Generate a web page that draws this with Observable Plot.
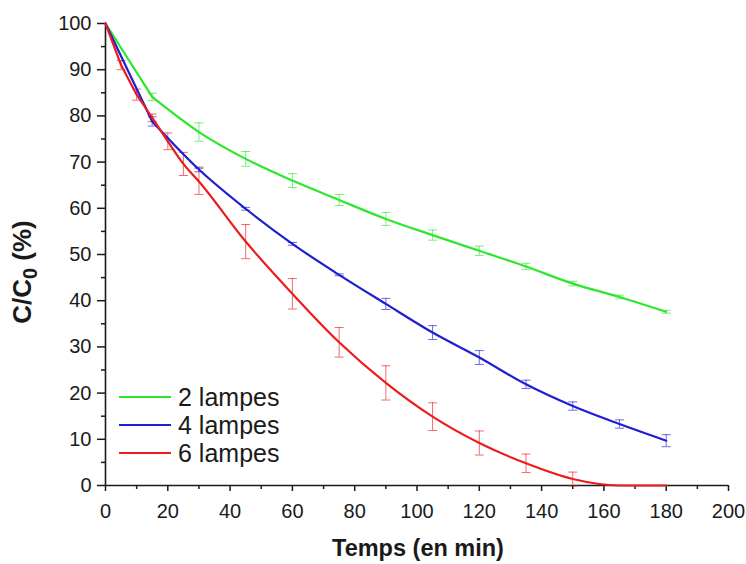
<!DOCTYPE html>
<html>
<head>
<meta charset="utf-8">
<script src="https://cdn.jsdelivr.net/npm/d3@7"></script>
<script src="https://cdn.jsdelivr.net/npm/@observablehq/plot@0.6"></script>
<style>
  html, body { margin: 0; padding: 0; background: #fff; }
  #chart { width: 746px; height: 564px; }
</style>
</head>
<body>
<div id="chart"></div>
<script>
// ---- Data ----
const seriesNames = ["2 lampes", "4 lampes", "6 lampes"];
const seriesColors = ["#2ee62e", "#1e1ed2", "#ec1c1c"];

const time2 = [0, 15, 30, 45, 60, 75, 90, 105, 120, 135, 150, 165, 180];
const lamp2 = [100, 84.1, 76.5, 70.7, 66.0, 61.8, 57.7, 54.2, 50.8, 47.4, 43.7, 40.8, 37.6];
const lamp2Err = [0, 0.8, 2.0, 1.6, 1.5, 1.2, 1.4, 1.1, 1.0, 0.7, 0.5, 0.4, 0.3];

const time4 = [0, 15, 30, 45, 60, 75, 90, 105, 120, 135, 150, 165, 180];
const lamp4 = [100, 78.8, 68.4, 59.9, 52.3, 45.6, 39.3, 33.1, 27.7, 21.9, 17.2, 13.3, 9.7];
const lamp4Err = [0, 1.0, 0.5, 0.3, 0.3, 0.2, 1.2, 1.5, 1.5, 0.9, 0.9, 0.9, 1.3];

const time6 = [0, 5, 10, 15, 20, 25, 30, 45, 60, 75, 90, 105, 120, 135, 150, 165, 180];
const lamp6 = [100, 91.0, 84.6, 79.6, 74.5, 69.6, 65.8, 52.8, 41.5, 31.0, 22.2, 14.9, 9.2, 4.8, 1.4, 0, 0];
const lamp6Err = [0, 1.0, 1.2, 0.8, 1.8, 2.5, 2.8, 3.7, 3.3, 3.2, 3.7, 3.0, 2.6, 2.0, 1.5, 0, 0];

const xTicks = [0, 20, 40, 60, 80, 100, 120, 140, 160, 180, 200];
const xMinorTicks = [10, 30, 50, 70, 90, 110, 130, 150, 170, 190];
const yTicks = [0, 10, 20, 30, 40, 50, 60, 70, 80, 90, 100];
const yMinorTicks = [5, 15, 25, 35, 45, 55, 65, 75, 85, 95];

// ---- Build table ----
const rows = [];
[[time2, lamp2, lamp2Err], [time4, lamp4, lamp4Err], [time6, lamp6, lamp6Err]].forEach(([t, v, e], i) => {
  t.forEach((tt, j) => rows.push({series: seriesNames[i], t: tt, v: v[j], e: e[j]}));
});
const errRows = rows.filter(d => d.e > 0);
const firstRows = rows.filter(d => d.t <= 15);
const restRows = rows.filter(d => d.t >= 15);

const capSymbol = {
  draw(context, size) {
    const r = Math.sqrt(size / Math.PI);
    context.moveTo(-r, 0);
    context.lineTo(r, 0);
  }
};

const axisColor = "#1a1a1a";

const chart = Plot.plot({
  width: 746,
  height: 564,
  marginLeft: 105,
  marginRight: 18,
  marginTop: 23,
  marginBottom: 79,
  style: {fontFamily: "'Liberation Sans', Arial, sans-serif", fontSize: "20px", color: axisColor, background: "#fff"},
  x: {domain: [0, 200]},
  y: {domain: [0, 100]},
  color: {domain: seriesNames, range: seriesColors},
  marks: [
    Plot.axisY({ticks: yTicks, tickSize: 8, tickPadding: 6, label: null, fontSize: 20, strokeWidth: 1.5}),
    Plot.axisY({ticks: yMinorTicks, tickSize: 4, text: null, label: null, strokeWidth: 1.5}),
    Plot.axisX({ticks: xTicks, tickSize: 6, tickPadding: 12, label: null, fontSize: 20, strokeWidth: 1.5}),
    Plot.axisX({ticks: xMinorTicks, tickSize: 4, text: null, label: null, strokeWidth: 1.5}),
    Plot.ruleX([0], {stroke: axisColor, strokeWidth: 1.6}),
    Plot.ruleY([0], {stroke: axisColor, strokeWidth: 1.6}),
    Plot.ruleX(errRows, {x: "t", y1: d => d.v - d.e, y2: d => d.v + d.e, stroke: "series", strokeWidth: 1, strokeOpacity: 0.65}),
    Plot.dot(errRows, {x: "t", y: d => d.v + d.e, symbol: capSymbol, r: 4.5, fill: "none", stroke: "series", strokeWidth: 1, strokeOpacity: 0.65}),
    Plot.dot(errRows, {x: "t", y: d => d.v - d.e, symbol: capSymbol, r: 4.5, fill: "none", stroke: "series", strokeWidth: 1, strokeOpacity: 0.65}),
    Plot.line(firstRows, {x: "t", y: "v", z: "series", stroke: "series", strokeWidth: 2.2, curve: "linear"}),
    Plot.line(restRows, {x: "t", y: "v", z: "series", stroke: "series", strokeWidth: 2.2, curve: "monotone-x"})
  ]
});

document.getElementById("chart").appendChild(chart);

// ---- Titles and legend ----
const svg = d3.select(chart);
const ff = "'Liberation Sans', Arial, sans-serif";

svg.append("text")
  .attr("x", 418).attr("y", 556)
  .attr("text-anchor", "middle")
  .attr("font-family", ff).attr("font-size", 23.5).attr("font-weight", "bold")
  .attr("fill", axisColor)
  .text("Temps (en min)");

const yt = svg.append("text")
  .attr("transform", "translate(31,272) rotate(-90)")
  .attr("text-anchor", "middle")
  .attr("font-family", ff).attr("font-size", 26).attr("font-weight", "bold")
  .attr("fill", axisColor);
yt.append("tspan").text("C/C");
yt.append("tspan").attr("font-size", 20).attr("dy", 6).text("0");
yt.append("tspan").attr("dy", -6).text(" (%)");

const legend = svg.append("g");
seriesNames.forEach((name, i) => {
  const y = 397 + i * 28;
  legend.append("line")
    .attr("x1", 119).attr("x2", 171).attr("y1", y).attr("y2", y)
    .attr("stroke", seriesColors[i]).attr("stroke-width", 2.2);
  legend.append("text")
    .attr("x", 178).attr("y", y + 9)
    .attr("text-anchor", "start")
    .attr("font-family", ff).attr("font-size", 25)
    .attr("fill", axisColor)
    .text(name);
});
</script>
</body>
</html>
